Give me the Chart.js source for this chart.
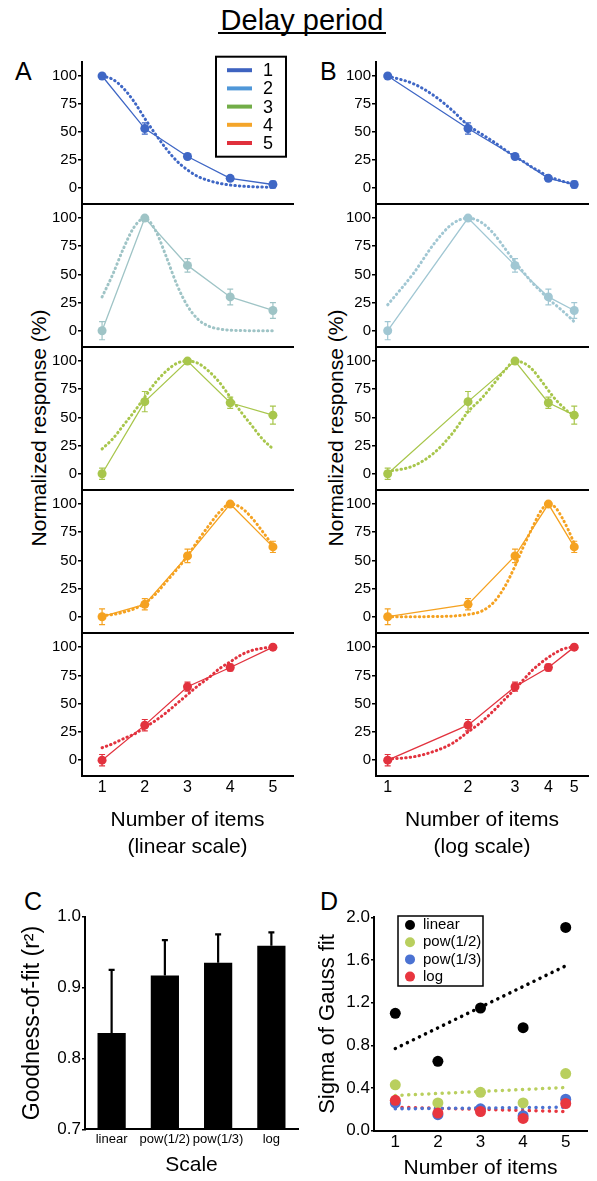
<!DOCTYPE html>
<html>
<head>
<meta charset="utf-8">
<script src="https://cdn.jsdelivr.net/npm/chart.js@4.4.1/dist/chart.umd.min.js"></script>
<style>
html,body{margin:0;padding:0;background:#fff;}
body{width:597px;height:1181px;position:relative;overflow:hidden;font-family:"Liberation Sans",Arial,Helvetica,sans-serif;color:#000;}
canvas{position:absolute;}
.lbl{position:absolute;line-height:1;white-space:nowrap;}
.ytitle{position:absolute;white-space:nowrap;font-size:21px;line-height:1;transform:translate(-50%,-50%) rotate(-90deg);}
</style>
</head>
<body>
<div class="lbl" style="left:302px;top:5.5px;font-size:29px;transform:translateX(-50%);">Delay period</div>
<div style="position:absolute;left:218px;top:32px;width:168px;height:2px;background:#000;"></div>
<div class="lbl" style="left:15px;top:58.7px;font-size:25px;">A</div>
<div class="lbl" style="left:320px;top:58.7px;font-size:25px;">B</div>
<div class="lbl" style="left:24px;top:888.7px;font-size:25px;">C</div>
<div class="lbl" style="left:320px;top:888.7px;font-size:25px;">D</div>
<div class="ytitle" style="left:38px;top:428px;">Normalized response (%)</div>
<div class="ytitle" style="left:335px;top:428px;">Normalized response (%)</div>
<script>
// ---------------- DATA ----------------
const items = [1, 2, 3, 4, 5];
const respTicks = [0, 25, 50, 75, 100];
const fitX = [1, 1.25, 1.5, 1.75, 2, 2.25, 2.5, 2.75, 3, 3.25, 3.5, 3.75, 4, 4.25, 4.5, 4.75, 5];

// normalized responses (%) of the five number-selective groups
const resp1 = [100, 53, 28, 8.5, 3];
const resp2 = [0, 100, 58, 30, 18];
const resp3 = [0, 64, 100, 63, 52];
const resp4 = [0, 11, 54, 100, 62];
const resp5 = [0, 31, 65, 82, 100];
const sem1 = [1, 5, 2, 2, 3];
const sem2 = [8, 1, 6, 7, 7];
const sem3 = [5, 9, 1, 5, 8];
const sem4 = [7, 5, 6, 1, 5];
const sem5 = [5, 5, 4, 3, 1];

// Gauss fits (linear scale, panel A)
const fitLinear1 = [100, 97, 89, 77, 62, 48, 35, 24, 16, 10, 6.5, 4, 2.5, 1.6, 1, 0.7, 0.5];
const fitLinear2 = [30, 50, 73, 92, 100, 89, 66, 41, 22, 10, 4, 1.5, 0.5, 0.2, 0, 0, 0];
const fitLinear3 = [22, 31, 43, 55, 68, 81, 91, 98, 100, 98, 91, 81, 68, 55, 43, 31, 22];
const fitLinear4 = [1, 2, 4, 7, 12, 20, 31, 42, 54, 68, 81, 93, 100, 97, 88, 76, 63];
const fitLinear5 = [11, 14.5, 19, 23, 29, 35, 42, 50, 58, 66, 73, 81, 87, 93, 97, 99, 100];
// Gauss fits (log scale, panel B)
const fitLog1 = [100, 93, 82, 69, 56, 48, 41, 34, 28, 23, 18, 14, 10, 8, 6, 4.5, 3];
const fitLog2 = [23, 51, 78, 95, 100, 96, 86, 73, 61, 51, 42, 35, 28, 23, 18, 13, 8];
const fitLog3 = [2, 7, 19, 36, 55, 67, 80, 92, 100, 98, 92, 83, 74, 66, 60, 55, 52];
const fitLog4 = [0, 0, 0.2, 0.6, 2, 5, 13, 27, 45, 64, 80, 94, 100, 97, 88, 77, 65];
const fitLog5 = [1, 3, 8, 15, 25, 34, 44, 54, 63, 72, 80, 86, 91, 95, 98, 99.5, 100];

const legendNumbers = ['1', '2', '3', '4', '5'];

// panel C
const scaleNames = ['linear', 'pow(1/2)', 'pow(1/3)', 'log'];
const goodnessOfFit = [0.836, 0.917, 0.935, 0.959];
const goodnessErr = [0.089, 0.050, 0.040, 0.019];
const gofTicks = [0.7, 0.8, 0.9, 1.0];

// panel D
const sigmaLinear = [1.10, 0.65, 1.15, 0.965, 1.905];
const sigmaPow2 = [0.43, 0.26, 0.36, 0.26, 0.535];
const sigmaPow3 = [0.26, 0.15, 0.205, 0.14, 0.295];
const sigmaLog = [0.285, 0.165, 0.18, 0.115, 0.255];
const fitEnds = [1, 5];
const sigmaFitLinear = [0.77, 1.545];
const sigmaFitPow2 = [0.33, 0.405];
const sigmaFitPow3 = [0.205, 0.22];
const sigmaFitLog = [0.22, 0.18];
const sigmaTicks = [0, 0.4, 0.8, 1.2, 1.6, 2.0];
const sigmaLegend = ['linear', 'pow(1/2)', 'pow(1/3)', 'log'];

// ---------------- STYLE ----------------
const FONT = '"Liberation Sans", Arial, Helvetica, sans-serif';
const colorsA = ['#3f67c5', '#9fc4c6', '#a8c64c', '#f5a221', '#e2323e'];
const colorsB = ['#3f67c5', '#a1c7d3', '#a8c64c', '#f5a221', '#e2323e'];
const legendColors = ['#3e63c0', '#4f97d8', '#72ad48', '#f4a52a', '#e0303c'];
const sigmaColors = ['#000000', '#b9cf5e', '#4b72d2', '#e8363f'];

Chart.defaults.font.family = FONT;
Chart.defaults.color = '#000';
Chart.defaults.animation = false;
Chart.defaults.responsive = false;
Chart.defaults.maintainAspectRatio = false;
Chart.defaults.devicePixelRatio = 1;
Chart.defaults.plugins.legend.display = false;
Chart.defaults.plugins.tooltip.enabled = false;

function makeCanvas(left, top, w, h) {
  const c = document.createElement('canvas');
  c.width = w; c.height = h;
  c.style.left = left + 'px'; c.style.top = top + 'px';
  c.style.width = w + 'px'; c.style.height = h + 'px';
  document.body.appendChild(c);
  return c;
}
function noPad(s) { s.paddingTop = 0; s.paddingBottom = 0; s.paddingLeft = 0; s.paddingRight = 0; }

const errorBarPlugin = {
  id: 'errorBars',
  afterDatasetsDraw(chart) {
    const ctx = chart.ctx;
    chart.data.datasets.forEach((ds, di) => {
      if (!ds.errorBars) return;
      const meta = chart.getDatasetMeta(di);
      const ys = chart.scales[meta.yAxisID];
      ctx.save();
      ctx.strokeStyle = ds.errorColor || ds.borderColor;
      ctx.lineWidth = ds.errorWidth || 1.2;
      meta.data.forEach((el, i) => {
        const e = ds.errorBars[i];
        if (!e) return;
        const raw = ds.data[i];
        const v = (raw && raw.y !== undefined) ? raw.y : raw;
        const x = el.x;
        const yTop = ys.getPixelForValue(v + e);
        const yBot = ds.errorUpperOnly ? ys.getPixelForValue(v) : ys.getPixelForValue(v - e);
        const cw = ds.errorCap || 3;
        ctx.beginPath();
        ctx.moveTo(x, yTop); ctx.lineTo(x, yBot);
        ctx.moveTo(x - cw, yTop); ctx.lineTo(x + cw, yTop);
        if (!ds.errorUpperOnly) { ctx.moveTo(x - cw, yBot); ctx.lineTo(x + cw, yBot); }
        ctx.stroke();
      });
      ctx.restore();
    });
  }
};

const legendA = {
  id: 'legendA',
  afterDraw(chart) {
    const ctx = chart.ctx, a = chart.chartArea;
    const x0 = a.left + 134, y0 = a.top - 5.3, w = 70, h = 100;
    ctx.save();
    ctx.lineWidth = 2; ctx.strokeStyle = '#000';
    ctx.strokeRect(x0, y0, w, h);
    ctx.font = '18px ' + FONT;
    ctx.textBaseline = 'middle'; ctx.textAlign = 'left';
    legendNumbers.forEach((t, i) => {
      const y = y0 + 13.5 + i * 18.2;
      ctx.strokeStyle = legendColors[i]; ctx.lineWidth = 4;
      ctx.beginPath(); ctx.moveTo(x0 + 11, y); ctx.lineTo(x0 + 36, y); ctx.stroke();
      ctx.fillStyle = '#000'; ctx.fillText(t, x0 + 47, y + 1);
    });
    ctx.restore();
  }
};

const legendD = {
  id: 'legendD',
  afterDraw(chart) {
    const ctx = chart.ctx, a = chart.chartArea;
    const x0 = a.left + 24, y0 = a.top - 1.3, w = 85, h = 70;
    ctx.save();
    ctx.lineWidth = 1.5; ctx.strokeStyle = '#000';
    ctx.strokeRect(x0, y0, w, h);
    ctx.font = '15px ' + FONT;
    ctx.textBaseline = 'middle'; ctx.textAlign = 'left';
    sigmaLegend.forEach((t, i) => {
      const y = y0 + 9 + i * 17.2;
      ctx.fillStyle = sigmaColors[i];
      ctx.beginPath(); ctx.arc(x0 + 12, y, 5, 0, Math.PI * 2); ctx.fill();
      ctx.fillStyle = '#000'; ctx.fillText(t, x0 + 25, y);
    });
    ctx.restore();
  }
};

// ---------------- PANELS A & B ----------------
const rowTops = [62, 204, 347, 490, 633];
const rowBottoms = [204, 347, 490, 633, 776];
const respSets = [resp1, resp2, resp3, resp4, resp5];
const semSets = [sem1, sem2, sem3, sem4, sem5];
const fitSetsA = [fitLinear1, fitLinear2, fitLinear3, fitLinear4, fitLinear5];
const fitSetsB = [fitLog1, fitLog2, fitLog3, fitLog4, fitLog5];

const columns = [
  { left: 0, width: 300, padRight: 7, xType: 'linear', xMin: 0.53, xMax: 5.47, fits: fitSetsA, colors: colorsA, xTitle: ['Number of items', '(linear scale)'] },
  { left: 294, width: 303, padRight: 9, xType: 'logarithmic', xMin: 0.904, xMax: 5.63, fits: fitSetsB, colors: colorsB, xTitle: ['Number of items', '(log scale)'] }
];

columns.forEach((col, ci) => {
  for (let r = 0; r < 5; r++) {
    const bottom = r === 4;
    const areaH = rowBottoms[r] - rowTops[r];
    const xH = bottom ? 85 : 0;
    const padB = bottom ? 0 : 4;
    const cv = makeCanvas(col.left, rowTops[r] - 12, col.width, areaH + 12 + xH + padB);
    const color = col.colors[r];
    const plugins = [errorBarPlugin];
    if (ci === 0 && r === 0) plugins.push(legendA);
    new Chart(cv, {
      type: 'line',
      data: {
        datasets: [
          {
            data: items.map((x, i) => ({ x: x, y: respSets[r][i] })),
            borderColor: color, backgroundColor: color, borderWidth: 1.3,
            pointRadius: 4.5, pointBackgroundColor: color, pointBorderWidth: 0,
            tension: 0, errorBars: semSets[r], errorWidth: 1.2, errorCap: 3
          },
          {
            data: fitX.map((x, i) => ({ x: x, y: col.fits[r][i] })),
            borderColor: color, borderWidth: 3, borderDash: [0.5, 4], borderCapStyle: 'round',
            pointRadius: 0, cubicInterpolationMode: 'monotone', fill: false
          }
        ]
      },
      options: {
        layout: { padding: { left: 0, right: col.padRight, top: 12, bottom: padB } },
        scales: {
          x: {
            type: col.xType, min: col.xMin, max: col.xMax,
            afterBuildTicks: s => { s.ticks = items.map(v => ({ value: v })); },
            afterFit: s => { s.height = xH; noPad(s); },
            grid: { display: false, drawTicks: false },
            border: { display: true, color: '#000', width: 2 },
            ticks: { display: bottom, font: { size: 16 }, padding: 2, color: '#000', autoSkip: false, maxRotation: 0, callback: v => String(v) },
            title: { display: bottom, text: col.xTitle, color: '#000', font: { size: 21, lineHeight: 27 / 21 }, padding: { top: 0, bottom: 0 } }
          },
          y: {
            min: -14, max: 112.5,
            afterBuildTicks: s => { s.ticks = respTicks.map(v => ({ value: v })); },
            afterFit: s => { s.width = 82; noPad(s); },
            grid: { drawOnChartArea: false, drawTicks: true, tickLength: 4, color: '#000', lineWidth: 1.5 },
            border: { display: true, color: '#000', width: 2 },
            ticks: { font: { size: 15 }, padding: 1, color: '#000' }
          }
        }
      },
      plugins: plugins
    });
  }
});

// ---------------- PANEL C ----------------
const cvC = makeCanvas(0, 880, 300, 301);
new Chart(cvC, {
  type: 'bar',
  data: {
    labels: scaleNames,
    datasets: [{
      data: goodnessOfFit, backgroundColor: '#000', borderWidth: 0,
      barPercentage: 0.53, categoryPercentage: 1.0,
      errorBars: goodnessErr, errorUpperOnly: true, errorColor: '#000', errorWidth: 2.2, errorCap: 3
    }]
  },
  options: {
    layout: { padding: { left: 0, right: 2, top: 36.7, bottom: 0 } },
    scales: {
      x: {
        afterFit: s => { s.height = 51.7; noPad(s); },
        grid: { display: false, drawTicks: false },
        border: { display: true, color: '#000', width: 2 },
        ticks: { font: { size: 13 }, padding: 2.6, color: '#000', autoSkip: false, maxRotation: 0 },
        title: { display: true, text: 'Scale', color: '#000', font: { size: 21, lineHeight: 1 }, padding: { top: 0, bottom: 5 } }
      },
      y: {
        min: 0.7, max: 1.0,
        afterBuildTicks: s => { s.ticks = gofTicks.map(v => ({ value: v })); },
        afterFit: s => { s.width = 85; noPad(s); },
        grid: { drawOnChartArea: false, drawTicks: true, tickLength: 3, color: '#000', lineWidth: 1.5 },
        border: { display: true, color: '#000', width: 2 },
        ticks: { font: { size: 17 }, padding: 1, color: '#000', callback: v => Number(v).toFixed(1) },
        title: { display: true, text: 'Goodness-of-fit (r²)', color: '#000', font: { size: 23 }, padding: { top: 19.2, bottom: 0 } }
      }
    }
  },
  plugins: [errorBarPlugin]
});

// ---------------- PANEL D ----------------
const cvD = makeCanvas(300, 880, 297, 301);
const sigmaSets = [sigmaLinear, sigmaPow2, sigmaPow3, sigmaLog];
const sigmaFits = [sigmaFitLinear, sigmaFitPow2, sigmaFitPow3, sigmaFitLog];
const dsD = [];
sigmaSets.forEach((arr, k) => {
  dsD.push({
    data: items.map((x, i) => ({ x: x, y: arr[i] })),
    backgroundColor: sigmaColors[k], borderWidth: 0, pointRadius: 5.5,
    order: 3 - k
  });
});
sigmaFits.forEach((arr, k) => {
  dsD.push({
    data: fitEnds.map((x, i) => ({ x: x, y: arr[i] })),
    showLine: true, borderColor: sigmaColors[k], borderWidth: 3.5,
    borderDash: [0.1, 6.6], borderCapStyle: 'round', pointRadius: 0,
    order: 10
  });
});
new Chart(cvD, {
  type: 'scatter',
  data: { datasets: dsD },
  options: {
    layout: { padding: { left: 0, right: 10, top: 37.3, bottom: 0 } },
    scales: {
      x: {
        type: 'linear', min: 0.5, max: 5.5,
        afterBuildTicks: s => { s.ticks = items.map(v => ({ value: v })); },
        afterFit: s => { s.height = 50.3; noPad(s); },
        grid: { display: false, drawTicks: false },
        border: { display: true, color: '#000', width: 2 },
        ticks: { font: { size: 17 }, padding: 1.8, color: '#000', callback: v => String(v) },
        title: { display: true, text: 'Number of items', color: '#000', font: { size: 21, lineHeight: 1 }, padding: { top: 0, bottom: 2.5 } }
      },
      y: {
        min: 0, max: 2.0,
        afterBuildTicks: s => { s.ticks = sigmaTicks.map(v => ({ value: v })); },
        afterFit: s => { s.width = 74; noPad(s); },
        grid: { drawOnChartArea: false, drawTicks: true, tickLength: 3, color: '#000', lineWidth: 1.5 },
        border: { display: true, color: '#000', width: 2 },
        ticks: { font: { size: 17 }, padding: 1, color: '#000', callback: v => Number(v).toFixed(1) },
        title: { display: true, text: 'Sigma of Gauss fit', color: '#000', font: { size: 22 }, padding: { top: 14.8, bottom: 0 } }
      }
    }
  },
  plugins: [legendD]
});
</script>
</body>
</html>
